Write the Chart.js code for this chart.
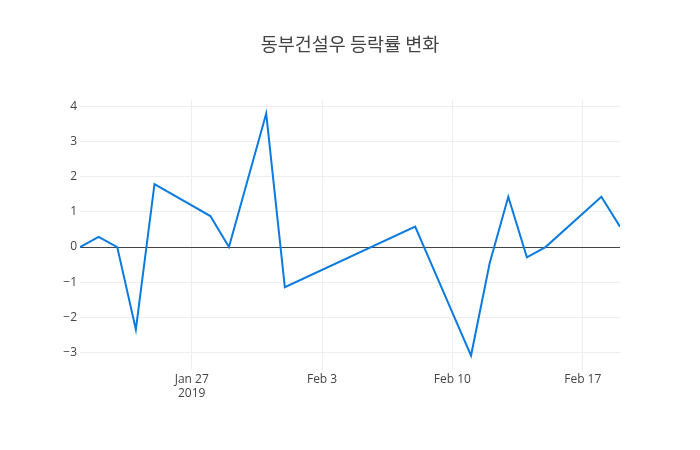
<!DOCTYPE html>
<html>
<head>
<meta charset="utf-8">
<script src="https://cdn.jsdelivr.net/npm/chart.js@4"></script>
<style>
    html, body { margin: 0; padding: 0; background: #fff; }
    #wrap { width: 700px; height: 450px; }
</style>
</head>
<body>
<div id="wrap"><canvas id="chartRate" width="700" height="450"></canvas></div>
<script>
// 거래일 (2019)
const dates = [
    '2019-01-21', '2019-01-22', '2019-01-23', '2019-01-24', '2019-01-25',
    '2019-01-28', '2019-01-29', '2019-01-31', '2019-02-01', '2019-02-08',
    '2019-02-11', '2019-02-12', '2019-02-13', '2019-02-14', '2019-02-15',
    '2019-02-18', '2019-02-19'
];
// 등락률 (%)
const rates = [
    0, 0.29, 0, -2.34, 1.79,
    0.88, 0, 3.79, -1.14, 0.58,
    -3.08, -0.46, 1.43, -0.29, 0,
    1.43, 0.58
];
const tickDates = ['2019-01-27', '2019-02-03', '2019-02-10', '2019-02-17'];
const tickLabels = [['Jan 27', '2019'], 'Feb 3', 'Feb 10', 'Feb 17'];
const yTicks = [-3, -2, -1, 0, 1, 2, 3, 4];

const DAY = 86400000;
const t0 = Date.parse(dates[0]);
const toDay = (s) => (Date.parse(s) - t0) / DAY;

const points = dates.map((d, i) => ({ x: toDay(d), y: rates[i] }));
const xTickPos = tickDates.map(toDay);

const font = { family: '"Open Sans", "Noto Sans", sans-serif', size: 12 };

new Chart(document.getElementById('chartRate'), {
    type: 'line',
    data: {
        datasets: [{
            data: points,
            borderColor: '#0b7be0',
            borderWidth: 2,
            pointRadius: 0,
            tension: 0,
            fill: false
        }]
    },
    options: {
        responsive: false,
        animation: false,
        layout: { padding: 0 },
        plugins: {
            legend: { display: false },
            tooltip: { enabled: false },
            title: {
                display: true,
                text: '동부건설우 등락률 변화',
                color: '#444',
                font: { family: '"Noto Sans CJK KR", "Open Sans", sans-serif', size: 18.5, weight: 'normal' },
                padding: { top: 33, bottom: 45 }
            }
        },
        scales: {
            x: {
                type: 'linear',
                min: toDay(dates[0]),
                max: toDay(dates[dates.length - 1]),
                afterBuildTicks: (axis) => { axis.ticks = xTickPos.map(v => ({ value: v })); },
                afterFit: (axis) => { axis.height = 80; },
                ticks: {
                    color: '#444',
                    font: font,
                    padding: 2,
                    maxRotation: 0,
                    autoSkip: false,
                    callback: (value) => {
                        const i = xTickPos.indexOf(value);
                        return i >= 0 ? tickLabels[i] : '';
                    }
                },
                grid: { color: '#eee', drawTicks: false },
                border: { display: false }
            },
            y: {
                min: -3.49,
                max: 4.17,
                afterBuildTicks: (axis) => { axis.ticks = yTicks.map(v => ({ value: v })); },
                afterFit: (axis) => { axis.width = 80; },
                ticks: {
                    color: '#444',
                    font: font,
                    padding: 3,
                    callback: (value) => value < 0 ? '\u2212' + Math.abs(value) : String(value)
                },
                grid: {
                    drawTicks: false,
                    color: (ctx) => ctx.tick && ctx.tick.value === 0 ? '#444' : '#eee',
                    lineWidth: 1
                },
                border: { display: false }
            },
            // 오른쪽 여백용 빈 축
            yRight: {
                position: 'right',
                afterFit: (axis) => { axis.width = 80; },
                ticks: { display: false },
                grid: { display: false },
                border: { display: false }
            }
        }
    }
});
</script>
</body>
</html>
